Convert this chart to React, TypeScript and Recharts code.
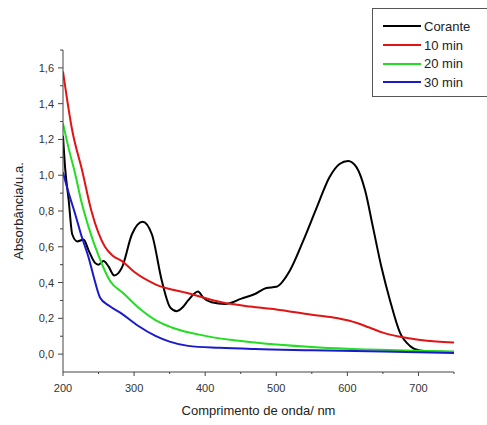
import { LineChart, Line, XAxis, YAxis, Label } from "recharts";

const FONT = "'Liberation Sans', Arial, sans-serif";

const coranteWl = [200, 203, 208, 213, 220, 229, 236, 245, 250, 257, 264, 272, 283, 297, 312, 325, 339, 351, 360, 368, 376, 390, 397, 409, 428, 451, 470, 486, 500, 519, 538, 557, 575, 589, 601, 613, 625, 636, 648, 660, 674, 688, 702, 720, 750];
const coranteAbs = [1.22, 1.04, 0.86, 0.67, 0.63, 0.64, 0.58, 0.51, 0.5, 0.52, 0.49, 0.44, 0.485, 0.67, 0.74, 0.67, 0.41, 0.26, 0.24, 0.26, 0.3, 0.35, 0.317, 0.29, 0.28, 0.31, 0.336, 0.37, 0.376, 0.466, 0.634, 0.82, 0.99, 1.063, 1.08, 1.044, 0.914, 0.71, 0.485, 0.3, 0.12, 0.046, 0.02, 0.015, 0.012];

const min10Wl = [200, 213, 227, 240, 259, 270, 283, 300, 330, 376, 423, 463, 500, 550, 580, 603, 630, 650, 674, 700, 725, 750];
const min10Abs = [1.58, 1.25, 1.025, 0.8, 0.6, 0.55, 0.52, 0.46, 0.39, 0.34, 0.29, 0.266, 0.25, 0.22, 0.205, 0.186, 0.15, 0.12, 0.097, 0.08, 0.07, 0.065];

const min20Wl = [200, 208, 217, 226, 236, 250, 266, 285, 306, 330, 353, 400, 470, 550, 600, 700, 750];
const min20Abs = [1.29, 1.15, 1.01, 0.85, 0.71, 0.55, 0.41, 0.34, 0.26, 0.19, 0.149, 0.102, 0.065, 0.04, 0.03, 0.019, 0.015];

const min30Wl = [200, 208, 217, 226, 236, 244, 252, 265, 283, 305, 330, 350, 376, 420, 470, 550, 650, 750];
const min30Abs = [1.016, 0.9, 0.785, 0.66, 0.54, 0.42, 0.317, 0.27, 0.225, 0.16, 0.102, 0.07, 0.046, 0.035, 0.028, 0.022, 0.015, 0.006];

const seriesNames = ["Corante", "10 min", "20 min", "30 min"];
const seriesColors = ["#000000", "#e01414", "#22dd22", "#1a1acc"];
const seriesWl = [coranteWl, min10Wl, min20Wl, min30Wl];
const seriesAbs = [coranteAbs, min10Abs, min20Abs, min30Abs];

const xTicks = [200, 250, 300, 350, 400, 450, 500, 550, 600, 650, 700, 750];
const yTicks = [0, 0.1, 0.2, 0.3, 0.4, 0.5, 0.6, 0.7, 0.8, 0.9, 1.0, 1.1, 1.2, 1.3, 1.4, 1.5, 1.6, 1.7];

const series = seriesNames.map((name, i) => ({
  name,
  color: seriesColors[i],
  data: seriesWl[i].map((x, j) => ({ x, y: seriesAbs[i][j] })),
}));

const AXIS = "#444";

function XTick(props: any) {
  const { x, y, payload } = props;
  const major = payload.value % 100 === 0;
  return (
    <g>
      <line x1={x} x2={x} y1={y} y2={y + (major ? 4 : 2)} stroke={AXIS} />
      {major && payload.value < 750 && (
        <text x={x} y={y + 20} textAnchor="middle" fontSize={11} fill="#333" fontFamily={FONT}>
          {payload.value}
        </text>
      )}
    </g>
  );
}

function YTick(props: any) {
  const { x, y, payload } = props;
  const ax = x + 8;
  const v = Math.round(payload.value * 10);
  const major = v % 2 === 0 && v <= 16;
  return (
    <g>
      <line x1={ax - (major ? 5 : 3)} x2={ax} y1={y} y2={y} stroke={AXIS} />
      {major && (
        <text x={ax - 9} y={y + 4} textAnchor="end" fontSize={11} fill="#333" fontFamily={FONT}>
          {payload.value.toFixed(1).replace(".", ",")}
        </text>
      )}
    </g>
  );
}

function LegendBox() {
  return (
    <div
      style={{
        position: "absolute",
        left: 372,
        top: 8,
        border: "1px solid #555",
        width: 130,
        height: 89,
        boxSizing: "border-box",
        paddingTop: 8,
        fontFamily: FONT,
        background: "#fff",
      }}
    >
      {series.map((s) => (
        <div key={s.name} style={{ display: "flex", alignItems: "center", height: 18.7 }}>
          <div style={{ width: 38, height: 2, background: s.color, marginLeft: 10 }} />
          <span style={{ fontSize: 13, color: "#222", marginLeft: 3 }}>{s.name}</span>
        </div>
      ))}
    </div>
  );
}

export default function App() {
  return (
    <div style={{ position: "absolute", left: 0, top: 0, width: 487, height: 425, overflow: "hidden", background: "#fff" }}>
      <LineChart width={487} height={425} margin={{ top: 50, right: 33, bottom: 8, left: 0 }}>
        <XAxis
          dataKey="x"
          type="number"
          domain={[200, 750]}
          ticks={xTicks}
          interval={0}
          allowDataOverflow
          height={45}
          tickSize={0}
          tickMargin={0}
          tickLine={false}
          stroke={AXIS}
          tick={<XTick />}
        >
          <Label value="Comprimento de onda/ nm" position="insideBottom" offset={2} fontSize={13} fill="#222" fontFamily={FONT} />
        </XAxis>
        <YAxis
          type="number"
          domain={[-0.1, 1.7]}
          ticks={yTicks}
          interval={0}
          allowDataOverflow
          width={63}
          tickSize={0}
          tickMargin={8}
          tickLine={false}
          stroke={AXIS}
          tick={<YTick />}
        >
          <Label
            content={(p: any) => {
              const vb = p.viewBox;
              const cx = vb.x + 20;
              const cy = vb.y + vb.height / 2;
              return (
                <text x={cx} y={cy} transform={`rotate(-90 ${cx} ${cy})`} textAnchor="middle" dominantBaseline="middle" fontSize={13} fill="#222" fontFamily={FONT}>
                  Absorbância/u.a.
                </text>
              );
            }}
          />
        </YAxis>
        {series.map((s) => (
          <Line
            key={s.name}
            data={s.data}
            dataKey="y"
            name={s.name}
            type="monotone"
            stroke={s.color}
            strokeWidth={2}
            dot={false}
            isAnimationActive={false}
          />
        ))}
      </LineChart>
      <LegendBox />
    </div>
  );
}
